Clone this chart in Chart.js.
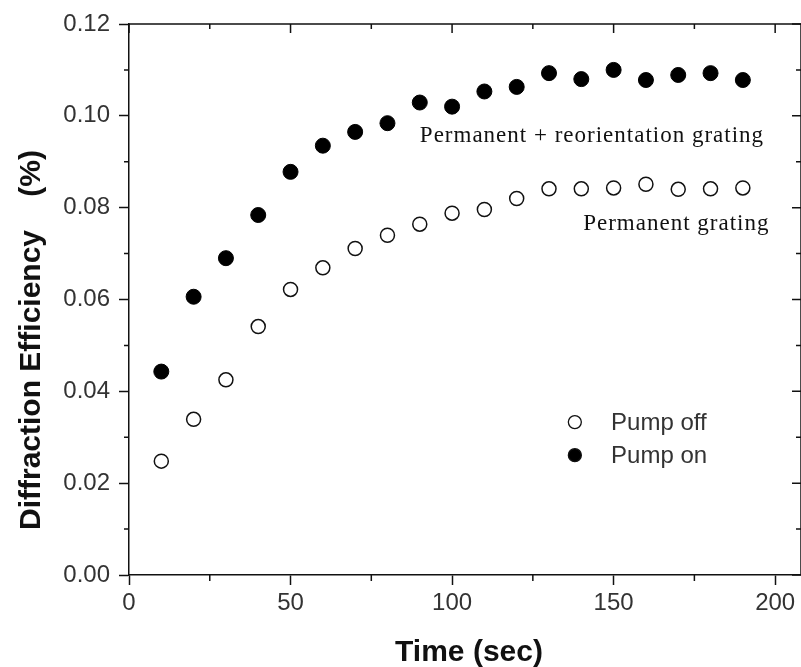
<!DOCTYPE html>
<html>
<head>
<meta charset="utf-8">
<script src="https://cdn.jsdelivr.net/npm/chart.js@4.4.1/dist/chart.umd.min.js"></script>
<style>
  html, body { margin: 0; padding: 0; background: #fff; }
  #chart { display: block; }
</style>
</head>
<body>
<canvas id="chart" width="801" height="667"></canvas>
<script>
// Sampling times (sec)
const times = [10, 20, 30, 40, 50, 60, 70, 80, 90, 100, 110, 120, 130, 140, 150, 160, 170, 180, 190];

// Diffraction efficiency (%)
const pumpOff = [0.0248, 0.0339, 0.0425, 0.0541, 0.0622, 0.0669, 0.0711, 0.0740, 0.0764, 0.0788,
                 0.0796, 0.0820, 0.0841, 0.0841, 0.0843, 0.0851, 0.0840, 0.0841, 0.0843];
const pumpOn = [0.0443, 0.0606, 0.0690, 0.0784, 0.0878, 0.0935, 0.0965, 0.0984, 0.1029, 0.1020,
                0.1053, 0.1063, 0.1093, 0.1080, 0.1100, 0.1078, 0.1089, 0.1093, 0.1078];

// Axis ticks
const xTicks = [0, 50, 100, 150, 200];
const xMinor = [25, 75, 125, 175];
const yTicks = [0, 0.02, 0.04, 0.06, 0.08, 0.10, 0.12];
const yMinor = [0.01, 0.03, 0.05, 0.07, 0.09, 0.11];

const seriesNames = ['Pump off', 'Pump on'];
const notes = ['Permanent + reorientation grating', 'Permanent grating'];

const sans = "'Liberation Sans', Arial, sans-serif";
const serif = "'Liberation Serif', 'Times New Roman', serif";
const ink = '#111';
const labelInk = '#333';

const toPoints = ys => ys.map((v, i) => ({ x: times[i], y: v }));

// Frame, minor/mirrored ticks, axis titles, notes and the legend
const decorations = {
  id: 'decorations',
  afterDraw(chart) {
    const { ctx, chartArea: a, scales: { x, y } } = chart;
    ctx.save();
    ctx.strokeStyle = ink;
    ctx.lineWidth = 1.5;

    ctx.beginPath();
    ctx.moveTo(a.left, a.top);
    ctx.lineTo(a.right, a.top);
    ctx.lineTo(a.right, a.bottom);
    ctx.stroke();

    const tick = (x1, y1, x2, y2) => { ctx.moveTo(x1, y1); ctx.lineTo(x2, y2); };
    ctx.beginPath();
    xMinor.forEach(v => {
      const px = x.getPixelForValue(v);
      tick(px, a.bottom, px, a.bottom + 6);
      tick(px, a.top, px, a.top + 5);
    });
    xTicks.forEach(v => {
      const px = x.getPixelForValue(v);
      tick(px, a.top, px, a.top + 9);
    });
    yMinor.forEach(v => {
      const py = y.getPixelForValue(v);
      tick(a.left - 5, py, a.left, py);
      tick(a.right - 5, py, a.right, py);
    });
    yTicks.forEach(v => {
      const py = y.getPixelForValue(v);
      tick(a.right - 9, py, a.right, py);
    });
    ctx.stroke();

    // axis titles
    ctx.fillStyle = ink;
    ctx.font = `bold 30px ${sans}`;
    ctx.textAlign = 'center';
    ctx.textBaseline = 'alphabetic';
    ctx.fillText('Time (sec)', 469, 661);

    ctx.save();
    ctx.translate(40, 340);
    ctx.rotate(-Math.PI / 2);
    ctx.fillText('Diffraction Efficiency    (%)', 0, 0);
    ctx.restore();

    // curve notes
    ctx.font = `23px ${serif}`;
    ctx.letterSpacing = '1px';
    ctx.fillText(notes[0], x.getPixelForValue(143.3), y.getPixelForValue(0.0943));
    ctx.fillText(notes[1], x.getPixelForValue(169.4), y.getPixelForValue(0.0751));
    ctx.letterSpacing = '0px';

    // legend
    ctx.font = `24px ${sans}`;
    ctx.textAlign = 'left';
    ctx.textBaseline = 'middle';
    const rows = [0.0333, 0.0261];
    chart.data.datasets.forEach((ds, i) => {
      const mx = x.getPixelForValue(138);
      const my = y.getPixelForValue(rows[i]);
      ctx.beginPath();
      ctx.arc(mx, my, 6.5, 0, Math.PI * 2);
      ctx.fillStyle = ds.backgroundColor;
      ctx.fill();
      ctx.lineWidth = 1.3;
      ctx.strokeStyle = ink;
      ctx.stroke();
      ctx.fillStyle = labelInk;
      ctx.fillText(ds.label, x.getPixelForValue(149.2), my + 1);
    });
    ctx.restore();
  }
};

new Chart(document.getElementById('chart'), {
  type: 'scatter',
  data: {
    datasets: [
      { label: seriesNames[0], data: toPoints(pumpOff), pointRadius: 7, pointBorderWidth: 1.5,
        backgroundColor: '#fff', borderColor: ink, pointHoverRadius: 7 },
      { label: seriesNames[1], data: toPoints(pumpOn), pointRadius: 7.5, pointBorderWidth: 1,
        backgroundColor: '#000', borderColor: '#000', pointHoverRadius: 7.5 }
    ]
  },
  options: {
    responsive: false,
    animation: false,
    devicePixelRatio: 1,
    layout: { autoPadding: false, padding: { top: 24, right: 0, left: 0, bottom: 0 } },
    plugins: { legend: { display: false }, tooltip: { enabled: false } },
    scales: {
      x: {
        type: 'linear',
        min: 0,
        max: 208,
        afterBuildTicks: s => { s.ticks = xTicks.map(v => ({ value: v })); },
        afterFit: s => { s.height = 92; s.paddingLeft = 0; s.paddingRight = 0; },
        border: { color: ink, width: 1.5 },
        grid: { drawOnChartArea: false, tickLength: 10, tickColor: ink, tickWidth: 1.5 },
        ticks: { color: labelInk, font: { family: sans, size: 24 }, padding: 4, maxRotation: 0 }
      },
      y: {
        type: 'linear',
        min: 0,
        max: 0.12,
        afterBuildTicks: s => { s.ticks = yTicks.map(v => ({ value: v })); },
        afterFit: s => { s.width = 129; s.paddingTop = 0; s.paddingBottom = 0; },
        border: { color: ink, width: 1.5 },
        grid: { drawOnChartArea: false, tickLength: 10, tickColor: ink, tickWidth: 1.5 },
        ticks: { color: labelInk, font: { family: sans, size: 24 }, padding: 9,
                 callback: v => v.toFixed(2) }
      }
    }
  },
  plugins: [decorations]
});
</script>
</body>
</html>
